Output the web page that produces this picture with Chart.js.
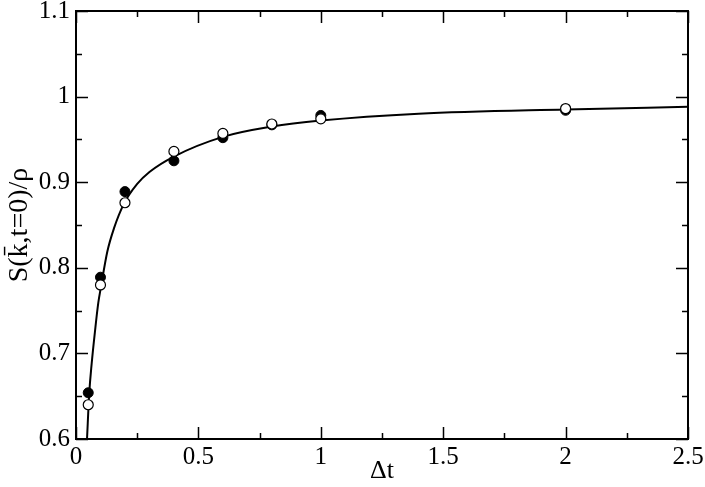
<!DOCTYPE html>
<html>
<head>
<meta charset="utf-8">
<script src="https://cdn.jsdelivr.net/npm/chart.js@4.4.1/dist/chart.umd.min.js"></script>
<style>
  body { margin: 0; background: #fff; }
  #wrap { width: 705px; height: 487px; }
</style>
</head>
<body>
<div id="wrap"><canvas id="sChart"></canvas></div>
<script>
// measured points (filled and open symbols)
const dt = [0.05, 0.1, 0.2, 0.4, 0.6, 0.8, 1.0, 2.0];
const sFilled = [0.654, 0.789, 0.889, 0.925, 0.952, 0.967, 0.978, 0.984];
const sOpen = [0.640, 0.780, 0.876, 0.936, 0.957, 0.968, 0.974, 0.986];

// solid curve
const fitDt = [0.045, 0.054, 0.064, 0.078, 0.091, 0.101, 0.128, 0.155, 0.196, 0.25, 0.3, 0.4, 0.6, 0.8, 1.0, 1.4, 2.0, 2.5];
const fitS = [0.600, 0.653, 0.688, 0.727, 0.759, 0.776, 0.819, 0.846, 0.875, 0.898, 0.912, 0.930, 0.953, 0.965, 0.972, 0.980, 0.985, 0.988];

// ticks
const xTicks = [0, 0.5, 1, 1.5, 2, 2.5];
const xTickLabels = ['0', '0.5', '1', '1.5', '2', '2.5'];
const xMinor = [0.25, 0.75, 1.25, 1.75, 2.25];
const yTicks = [0.6, 0.7, 0.8, 0.9, 1.0, 1.1];
const yTickLabels = ['0.6', '0.7', '0.8', '0.9', '1', '1.1'];
const yMinor = [0.65, 0.75, 0.85, 0.95, 1.05];

const serif = '"Liberation Serif", "Times New Roman", serif';

function toXY(xs, ys) {
    return xs.map((x, i) => ({ x: x, y: ys[i] }));
}

// frame + inward ticks on all four sides
const frameTicks = {
    id: 'frameTicks',
    afterDatasetsDraw(chart) {
        const ctx = chart.ctx;
        const { left, right, top, bottom } = chart.chartArea;
        const xs = chart.scales.x, ys = chart.scales.y;
        ctx.save();
        ctx.strokeStyle = '#000';
        ctx.lineWidth = 1.5;
        ctx.beginPath();
        const xMark = (v, len) => {
            const px = Math.round(xs.getPixelForValue(v)) + 0.5;
            ctx.moveTo(px, bottom); ctx.lineTo(px, bottom - len);
            ctx.moveTo(px, top); ctx.lineTo(px, top + len);
        };
        const yMark = (v, len) => {
            const py = Math.round(ys.getPixelForValue(v)) + 0.5;
            ctx.moveTo(left, py); ctx.lineTo(left + len, py);
            ctx.moveTo(right, py); ctx.lineTo(right - len, py);
        };
        xTicks.forEach(v => xMark(v, 12));
        xMinor.forEach(v => xMark(v, 6));
        yTicks.forEach(v => yMark(v, 12));
        yMinor.forEach(v => yMark(v, 6));
        ctx.stroke();
        ctx.lineWidth = 2;
        ctx.strokeRect(left, top, right - left, bottom - top);
        ctx.restore();
    }
};

const ctxS = document.getElementById('sChart').getContext('2d');
const sChart = new Chart(ctxS, {
    type: 'scatter',
    data: {
        datasets: [
            {
                label: 'fit',
                data: toXY(fitDt, fitS),
                showLine: true,
                borderColor: '#000',
                borderWidth: 2,
                pointRadius: 0,
                cubicInterpolationMode: 'monotone',
                order: 3
            },
            {
                label: 'filled',
                data: toXY(dt, sFilled),
                pointRadius: 5,
                pointBackgroundColor: '#000',
                pointBorderColor: '#000',
                pointBorderWidth: 1,
                order: 2
            },
            {
                label: 'open',
                data: toXY(dt, sOpen),
                pointRadius: 5,
                pointBackgroundColor: '#fff',
                pointBorderColor: '#000',
                pointBorderWidth: 1.2,
                order: 1
            }
        ]
    },
    options: {
        responsive: true,
        maintainAspectRatio: false,
        animation: false,
        layout: { padding: { top: 11, right: 17, left: 0, bottom: 0 } },
        plugins: {
            legend: { display: false },
            tooltip: { enabled: false }
        },
        scales: {
            x: {
                type: 'linear',
                min: 0,
                max: 2.5,
                grid: { display: false, drawTicks: false },
                border: { display: false },
                afterBuildTicks: s => { s.ticks = xTicks.map(v => ({ value: v })); },
                afterFit: s => { s.height = 48; s.paddingLeft = 0; s.paddingRight = 0; },
                ticks: {
                    autoSkip: false,
                    maxRotation: 0,
                    padding: 3,
                    color: '#000',
                    font: { family: serif, size: 25 },
                    callback: function(value) {
                        return xTickLabels[xTicks.indexOf(value)];
                    }
                },
                title: {
                    display: true,
                    text: 'Δt',
                    color: '#000',
                    font: { family: serif, size: 26 },
                    padding: { top: 0, bottom: 0 }
                }
            },
            y: {
                type: 'linear',
                min: 0.6,
                max: 1.1,
                grid: { display: false, drawTicks: false },
                border: { display: false },
                afterBuildTicks: s => { s.ticks = yTicks.map(v => ({ value: v })); },
                afterFit: s => { s.width = 76; s.paddingTop = 0; s.paddingBottom = 0; },
                ticks: {
                    autoSkip: false,
                    padding: 6,
                    color: '#000',
                    font: { family: serif, size: 25 },
                    callback: function(value) {
                        const i = yTicks.findIndex(t => Math.abs(t - value) < 1e-6);
                        return yTickLabels[i];
                    }
                },
                title: {
                    display: true,
                    text: 'S(k\u0304,t=0)/ρ',
                    color: '#000',
                    font: { family: serif, size: 28 },
                    padding: { top: 3, bottom: 0 }
                }
            }
        }
    },
    plugins: [frameTicks]
});
</script>
</body>
</html>
